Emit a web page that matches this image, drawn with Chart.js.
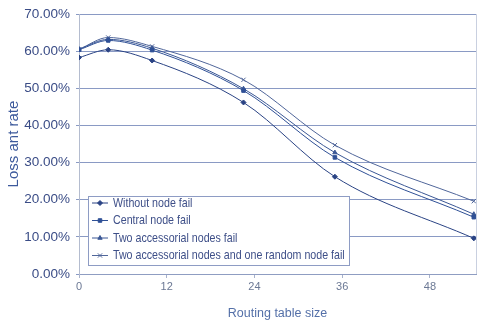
<!DOCTYPE html>
<html>
<head>
<meta charset="utf-8">
<script src="https://cdn.jsdelivr.net/npm/chart.js@4"></script>
<style>
  html, body { margin: 0; padding: 0; background: #fff; }
  #wrap { width: 481px; height: 326px; }
</style>
</head>
<body>
<div id="wrap"><canvas id="chart" width="481" height="326"></canvas></div>
<script>
const ctx = document.getElementById('chart');

// routing table size (x) and loss ant rate (%)
const table_size = [0, 4, 10, 22.5, 35, 54];
const without_fail = [58.3, 60.4, 57.5, 46.2, 26.2, 9.6];
const central_fail = [60.4, 62.9, 60.3, 49.4, 31.4, 15.3];
const two_acc_fail = [60.6, 63.2, 60.8, 49.9, 32.7, 16.1];
const two_acc_random_fail = [60.5, 63.7, 61.3, 52.3, 34.7, 19.6];
const x_ticks = [0, 12, 24, 36, 48];

const text_color = '#3a4c86';

function toPoints(ys){
    return ys.map(function(y, i){ return {x: table_size[i], y: y}; });
}

function makeSet(label, ys, style, radius, color){
    return {
        label: label,
        data: toPoints(ys),
        borderColor: color,
        backgroundColor: color,
        borderWidth: 1,
        pointStyle: style,
        pointRadius: radius,
        pointBorderWidth: 1,
        showLine: true,
        cubicInterpolationMode: 'monotone'
    };
}

const data = {
    datasets: [
        makeSet('Without node fail', without_fail, 'rectRot', 2.5, '#2a4384'),
        makeSet('Central node fail', central_fail, 'rect', 2.5, '#2f5096'),
        makeSet('Two accessorial nodes fail', two_acc_fail, 'triangle', 2.5, '#3a5795'),
        makeSet('Two accessorial nodes and one random node fail', two_acc_random_fail, 'crossRot', 3, '#50669a')
    ]
};

// light frame on the right side of the plot
const plotFrame = {
    id: 'plotFrame',
    beforeDatasetsDraw(chart){
        const a = chart.chartArea;
        const c = chart.ctx;
        c.save();
        c.strokeStyle = '#c9d0e0';
        c.lineWidth = 1;
        c.beginPath();
        c.moveTo(Math.round(a.right) + 0.5, a.top);
        c.lineTo(Math.round(a.right) + 0.5, a.bottom);
        c.stroke();
        c.restore();
    }
};

// legend box drawn inside the plot, like the original
const boxLegend = {
    id: 'boxLegend',
    afterDraw(chart){
        const c = chart.ctx;
        const x0 = 88, y0 = 196, w = 261, h = 69;
        c.save();
        c.fillStyle = '#ffffff';
        c.fillRect(x0, y0, w, h);
        c.strokeStyle = '#8e9cc4';
        c.lineWidth = 1;
        c.strokeRect(x0 + 0.5, y0 + 0.5, w, h);
        c.font = '13px Arial, "Liberation Sans", sans-serif';
        c.textBaseline = 'middle';
        const rows = [203, 220.5, 238, 255.5];
        chart.data.datasets.forEach(function(ds, i){
            const y = rows[i];
            c.strokeStyle = ds.borderColor;
            c.fillStyle = ds.backgroundColor;
            c.lineWidth = 1;
            c.beginPath();
            c.moveTo(92, y);
            c.lineTo(108, y);
            c.stroke();
            Chart.helpers.drawPoint(c, {pointStyle: ds.pointStyle, radius: ds.pointRadius, borderWidth: 1}, 100, y);
            c.fillStyle = '#3e4f88';
            const natural = c.measureText(ds.label).width;
            c.fillText(ds.label, 113, y, natural * 0.82);
        });
        c.restore();
    }
};

const config = {
    type: 'scatter',
    data: data,
    options: {
        responsive: false,
        animation: false,
        layout: { padding: { top: 5, right: 5, left: 0, bottom: 0 } },
        plugins: {
            legend: { display: false },
            tooltip: { enabled: false }
        },
        scales: {
            x: {
                type: 'linear',
                min: 0,
                max: 54.3,
                afterBuildTicks: function(axis){
                    axis.ticks = x_ticks.map(function(v){ return {value: v}; });
                },
                afterFit: function(axis){ axis.height = 52; },
                grid: {
                    drawOnChartArea: false,
                    tickLength: 4,
                    color: '#a8b2cc'
                },
                border: { color: '#8f9dc2' },
                ticks: {
                    color: '#6b7894',
                    font: { size: 11, family: 'Arial' },
                    padding: 2,
                    maxRotation: 0
                },
                title: {
                    display: true,
                    text: 'Routing table size',
                    color: '#5470a8',
                    font: { size: 12.5, family: 'Arial' },
                    padding: { top: 9, bottom: 5 }
                }
            },
            y: {
                min: 0,
                max: 70,
                afterFit: function(axis){ axis.width = 79; },
                ticks: {
                    stepSize: 10,
                    color: text_color,
                    font: { size: 13.5, family: 'Arial' },
                    padding: 6,
                    callback: function(v){ return v.toFixed(2) + '%'; }
                },
                grid: {
                    color: '#8a9ac4',
                    tickLength: 3,
                    lineWidth: 1
                },
                border: { color: '#b4bccf' },
                title: {
                    display: true,
                    text: 'Loss ant rate',
                    color: '#3d5a9c',
                    font: { size: 15, family: 'Arial' },
                    padding: { top: 5, bottom: 0 }
                }
            }
        }
    },
    plugins: [plotFrame, boxLegend]
};

const myChart = new Chart(ctx, config);
</script>
</body>
</html>
